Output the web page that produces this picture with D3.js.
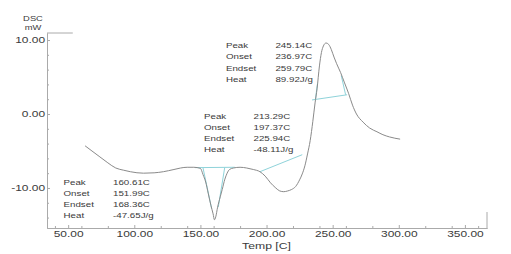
<html>
<head><meta charset="utf-8"></head>
<script src='https://cdnjs.cloudflare.com/ajax/libs/d3/7.8.5/d3.min.js'></script>
<style>
    body { margin: 0; background: #fff; }
    text { font-family: 'Liberation Sans', Arial, sans-serif; fill: #3a3a3a; }
    .axis path, .axis line { stroke: #aaa; }
</style>

<body onload='init()'>
    <svg width=511 height=254>
    </svg>
    <script>
        // DSC trace
        const temps = [62.8, 68, 74, 80, 86, 92, 97, 107, 115, 122, 130, 135, 140, 145, 150, 152, 154, 156, 158,
            159.6, 160.6, 161.6, 163, 165, 166.5, 168.5, 170.2, 172, 175, 180, 185, 190, 195, 199, 203, 207, 210,
            213, 216, 219, 222, 225, 227, 229, 231, 233, 235, 236.7, 238.2, 240, 241.5, 243, 245, 247, 249, 251,
            253, 256, 259, 262, 265, 268, 273, 278, 283.5, 288, 293, 301];
        const dsc = [-4.3, -5.0, -5.8, -6.6, -7.3, -7.6, -7.8, -8.0, -7.95, -7.8, -7.5, -7.3, -7.2, -7.2, -7.35, -8.2,
            -9.2, -10.8, -12.4, -13.5, -14.3, -13.9, -12.6, -11.2, -10.2, -8.8, -8.0, -7.5, -7.3, -7.2, -7.3, -7.5,
            -7.8, -8.4, -9.3, -10.0, -10.4, -10.5, -10.4, -10.2, -9.8, -8.9, -8.1, -7.0, -5.4, -3.6, -1.0, 1.5, 3.4,
            6.5, 8.3, 9.2, 9.6, 9.4, 8.7, 7.7, 6.8, 5.6, 4.2, 2.8, 1.2, 0.0, -1.1, -1.9, -2.4, -2.8, -3.1, -3.4];

        // baselines / tangents (temp1, dsc1, temp2, dsc2)
        const baseLines = [
            [146, -7.25, 176, -7.2],
            [151.99, -7.3, 158.5, -12.8],
            [168.36, -7.25, 163.5, -12.6],
            [195, -7.8, 227, -5.5],
            [234.4, 1.9, 260.9, 2.6],
            [236.97, 2.0, 238.6, 4.2],
            [259.79, 2.6, 256.5, 5.2]
        ];

        const rowNames = ['Peak', 'Onset', 'Endset', 'Heat'];
        const peakVals = ['160.61C', '213.29C', '245.14C'];
        const onsetVals = ['151.99C', '197.37C', '236.97C'];
        const endsetVals = ['168.36C', '225.94C', '259.79C'];
        const heatVals = ['-47.65J/g', '-48.11J/g', '89.92J/g'];
        // where each block sits (temp, dsc of first baseline)
        const blockTemp = [46.5, 152.7, 169.3];
        const blockDsc = [-9.59, -0.68, 8.88];

        const xTicks = [50, 100, 150, 200, 250, 300, 350];
        const yTicks = [-10, 0, 10];

        function init() {
            const svg = d3.select('svg');
            const sx = 1.3;  // picture text is stretched sideways
            const fmt = d => d.toFixed(2);  // plain hyphen minus

            let x = d3.scaleLinear().domain([34, 366.7]).range([47, 487]);
            let y = d3.scaleLinear().domain([-15.41, 10.95]).range([228, 33]);

            // minor ticks
            let xMinor = d3.range(40, 367, 20).filter(d => d % 50 != 0);
            let yMinor = d3.range(-14, 11, 2).filter(d => d % 10 != 0);

            svg.append('g').attr('class', 'axis')
                .attr('transform', 'translate(0,228)')
                .call(d3.axisBottom(x).tickValues(xMinor).tickFormat('').tickSize(-2).tickSizeOuter(0));
            svg.append('g').attr('class', 'axis')
                .attr('transform', 'translate(47,0)')
                .call(d3.axisLeft(y).tickValues(yMinor).tickFormat('').tickSize(-2).tickSizeOuter(0));

            svg.append('g').attr('class', 'axis')
                .attr('transform', 'translate(0,228)')
                .call(d3.axisBottom(x).tickValues(xTicks).tickFormat(fmt).tickSize(-3).tickSizeOuter(0).tickPadding(2));
            svg.append('g').attr('class', 'axis')
                .attr('transform', 'translate(47,0)')
                .call(d3.axisLeft(y).tickValues(yTicks).tickFormat(fmt).tickSize(-3).tickSizeOuter(0).tickPadding(1.5));
            svg.selectAll('.axis text')
                .attr('transform', `scale(${sx},1)`)
                .style('font-size', '9.2px')
                .style('font-family', "'Liberation Sans', Arial, sans-serif")
                .attr('fill', '#3a3a3a');

            // frame stubs
            svg.append('line').attr('x1', x(34)).attr('x2', x(53.5)).attr('y1', y(10.95)).attr('y2', y(10.95))
                .attr('stroke', '#aaa');
            svg.append('line').attr('x1', x(366.7)).attr('x2', x(366.7)).attr('y1', y(-13.25)).attr('y2', y(-15.41))
                .attr('stroke', '#aaa');

            // text with the sideways stretch
            function label(tx, px, py, size, anchor) {
                svg.append('text')
                    .attr('transform', `translate(${px},${py}) scale(${sx},1)`)
                    .attr('text-anchor', anchor)
                    .style('font-size', size + 'px')
                    .text(tx);
            }
            label('DSC', 33, 20.5, 7.2, 'middle');
            label('mW', 33, 29.5, 7.2, 'middle');
            label('Temp [C]', x(200), 248.5, 9.4, 'middle');

            // baselines
            svg.append('g').selectAll('line')
                .data(baseLines)
                .enter()
                .append('line')
                .attr('x1', d => x(d[0])).attr('y1', d => y(d[1]))
                .attr('x2', d => x(d[2])).attr('y2', d => y(d[3]))
                .attr('stroke', '#8fd3da')
                .attr('stroke-width', 1);

            // curve
            let line = d3.line().curve(d3.curveMonotoneX)
                .x(d => x(d[0])).y(d => y(d[1]));
            svg.append('path')
                .datum(temps.map((t, i) => [t, dsc[i]]))
                .attr('d', line)
                .attr('fill', 'none')
                .attr('stroke', '#8a8a8a')
                .attr('stroke-width', 1);

            // result blocks
            let cols = [peakVals, onsetVals, endsetVals, heatVals];
            blockTemp.forEach((t, b) => {
                let px = x(t), py = y(blockDsc[b]);
                rowNames.forEach((name, r) => {
                    label(name, px, py + r * 11.1, 7.5, 'start');
                    label(cols[r][b], px + 49.5, py + r * 11.1, 7.5, 'start');
                });
            });
        }
    </script>
</body>

</html>
